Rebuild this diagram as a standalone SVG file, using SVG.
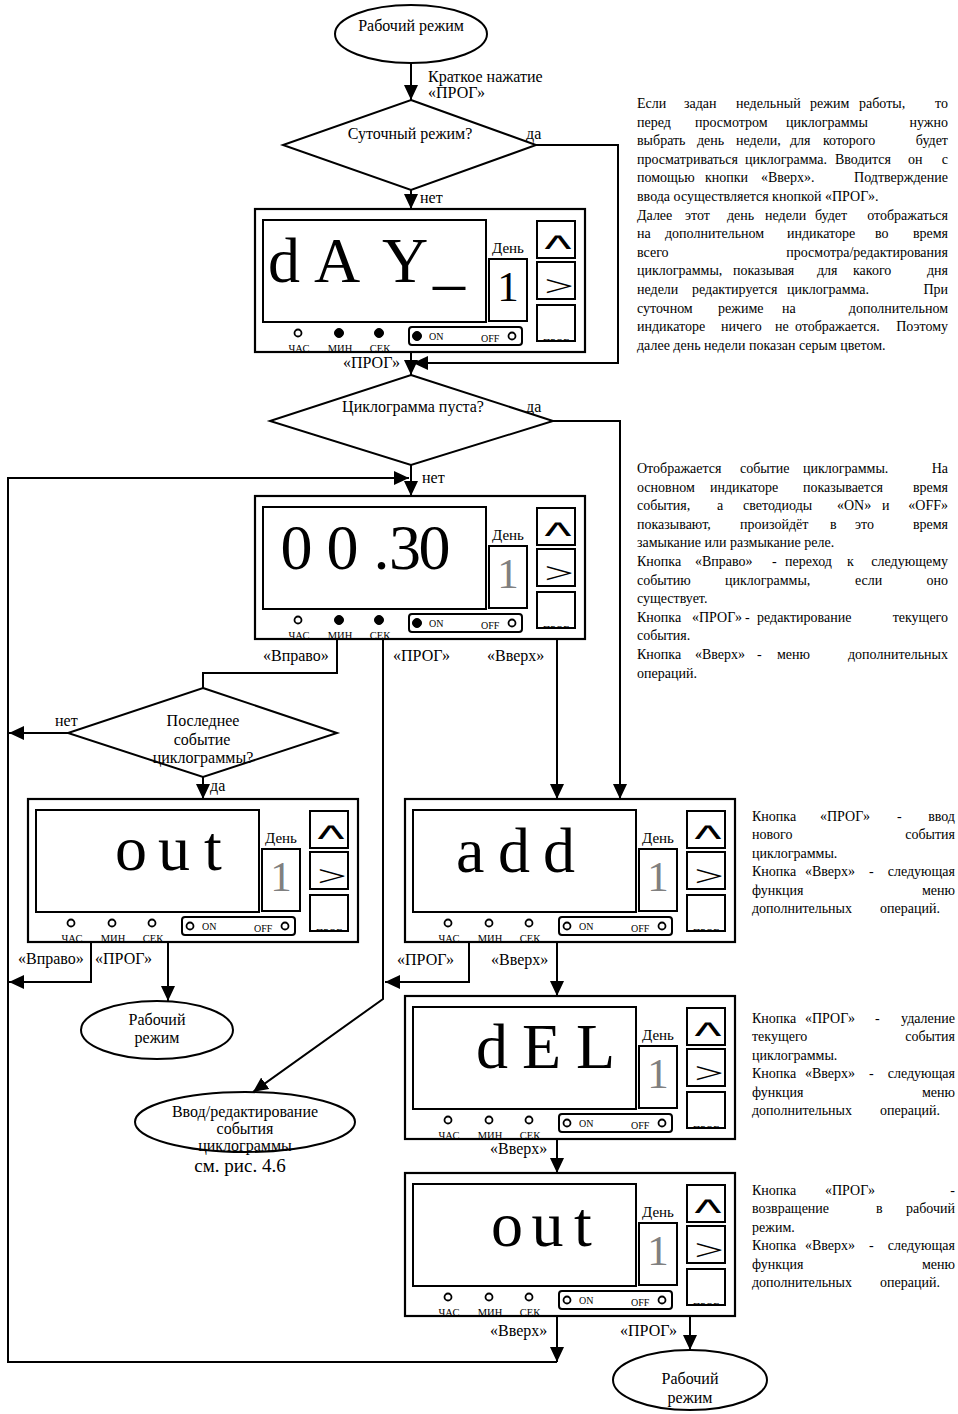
<svg xmlns="http://www.w3.org/2000/svg" width="958" height="1414" viewBox="0 0 958 1414">
<defs>
<style>
.s{font-family:"Liberation Serif","Times New Roman",serif;fill:#000}
.l{font-size:16px}
.rt{font-size:14px}
.disp{font-size:64px}
.dig{font-size:43px}
.gray{fill:#808080}
.day{font-size:15px}
.ledl{font-size:10.5px}
.oo{font-size:10px}
.tiny{font-size:10px}
.caret{font-family:"Liberation Sans",Arial,sans-serif;font-size:37px;fill:#000}
.gt{font-size:30px}
.sh{fill:#fff;stroke:#000;stroke-width:2}
.pbg{fill:#fff;stroke:none}
.pfr{fill:none;stroke:#000;stroke-width:2.2}
.bx{fill:none;stroke:#000;stroke-width:2}
.ln{fill:none;stroke:#000;stroke-width:2}
.ledo{fill:#fff;stroke:#000;stroke-width:1.8}
.ledf{fill:#000;stroke:#000;stroke-width:1}
.m{text-anchor:middle}
.e{text-anchor:end}
</style>
<marker id="ah" markerUnits="userSpaceOnUse" markerWidth="16" markerHeight="14" refX="15" refY="7" orient="auto">
<path d="M0,0 L15,7 L0,14 z" fill="#000"/>
</marker>
<clipPath id="bclip" clipPathUnits="userSpaceOnUse"><rect x="283" y="97" width="36" height="34"/></clipPath>
</defs>
<rect width="958" height="1414" fill="#fff"/>

<!-- connectors -->
<g id="connectors">
<g class="ln">
<path d="M411,63 V100" marker-end="url(#ah)"/>
<path d="M536,145 H618 V363 H413" marker-end="url(#ah)"/>
<path d="M411,190 V209" marker-end="url(#ah)"/>
<path d="M411,352 V375" marker-end="url(#ah)"/>
<path d="M553,421 H620 V799" marker-end="url(#ah)"/>
<path d="M411,465 V496" marker-end="url(#ah)"/>
<path d="M337,639 V673 H203 V688"/>
<path d="M383,639 V999 L253,1092" marker-end="url(#ah)"/>
<path d="M557,639 V799" marker-end="url(#ah)"/>
<path d="M68,733 H9" marker-end="url(#ah)"/>
<path d="M203,777 V799" marker-end="url(#ah)"/>
<path d="M91,942 V982 H9" marker-end="url(#ah)"/>
<path d="M168,942 V1001" marker-end="url(#ah)"/>
<path d="M469,942 V982 H385" marker-end="url(#ah)"/>
<path d="M557,942 V996" marker-end="url(#ah)"/>
<path d="M557,1139 V1173" marker-end="url(#ah)"/>
<path d="M557,1316 V1362" marker-end="url(#ah)"/>
<path d="M557,1362 H8 V478 H409" marker-end="url(#ah)"/>
<path d="M690,1316 V1350" marker-end="url(#ah)"/>
</g>
<g class="s l">
<text x="428" y="82">Краткое нажатие</text>
<text x="428" y="98">«ПРОГ»</text>
<text x="526" y="139">да</text>
<text x="420" y="203">нет</text>
<text x="400" y="368" class="e">«ПРОГ»</text>
<text x="526" y="412">да</text>
<text x="422" y="483">нет</text>
<text x="263" y="661">«Вправо»</text>
<text x="393" y="661">«ПРОГ»</text>
<text x="487" y="661">«Вверх»</text>
<text x="55" y="726">нет</text>
<text x="210" y="791">да</text>
<text x="18" y="964">«Вправо»</text>
<text x="95" y="964">«ПРОГ»</text>
<text x="397" y="965">«ПРОГ»</text>
<text x="491" y="965">«Вверх»</text>
<text x="490" y="1154">«Вверх»</text>
<text x="490" y="1336">«Вверх»</text>
<text x="620" y="1336">«ПРОГ»</text>
</g>
</g>

<!-- terminals and decisions -->
<g id="start">
<ellipse class="sh" cx="411" cy="34" rx="76" ry="29"/>
<text class="s l m" x="411" y="31">Рабочий режим</text>
</g>
<g id="dec-daily">
<polygon class="sh" points="411,100 536,145 411,190 283,145"/>
<text class="s l m" x="410" y="139">Суточный режим?</text>
</g>
<g id="dec-empty">
<polygon class="sh" points="411,375 553,421 411,465 270,421"/>
<text class="s l m" x="413" y="412">Циклограмма пуста?</text>
</g>
<g id="dec-last">
<polygon class="sh" points="203,688 337,733 203,777 68,733"/>
<text class="s l m" x="203" y="726">Последнее</text>
<text class="s l m" x="202" y="745">событие</text>
<text class="s l m" x="203" y="763">циклограммы?</text>
</g>
<g id="end-left">
<ellipse class="sh" cx="157" cy="1030" rx="76" ry="29"/>
<text class="s l m" x="157" y="1025">Рабочий</text>
<text class="s l m" x="157" y="1043">режим</text>
</g>
<g id="edit">
<ellipse class="sh" cx="245" cy="1122" rx="110" ry="30"/>
<text class="s l m" x="245" y="1117">Ввод/редактирование</text>
<text class="s l m" x="245" y="1134">события</text>
<text class="s l m" x="245" y="1151">циклограммы</text>
<text class="s m" style="font-size:19px" x="240" y="1172">см. рис. 4.6</text>
</g>
<g id="end-right">
<ellipse class="sh" cx="690" cy="1380" rx="77" ry="30"/>
<text class="s l m" x="690" y="1384">Рабочий</text>
<text class="s l m" x="690" y="1403">режим</text>
</g>

<!-- panel: dAY -->
<g id="panel-day" transform="translate(255,209)">
<rect class="pbg" width="330" height="143"/>
<rect class="bx" x="8" y="11" width="223" height="102"/>
<text class="s disp" x="13 59 127 178" y="73">dAY_</text>
<text class="s day m" x="253" y="44">День</text>
<rect class="bx" x="234" y="50" width="38" height="62"/>
<text class="s dig m" x="253" y="92">1</text>
<rect class="bx" x="282" y="12" width="38" height="37"/>
<text class="caret m" transform="translate(303,52) scale(1.55,1)">^</text>
<rect class="bx" x="282" y="53" width="38" height="37"/>
<text class="s gt m" transform="translate(304,87) scale(1.75,1)">&gt;</text>
<rect class="bx" x="282" y="96" width="38" height="36"/>
<text class="s tiny m" x="301" y="137" clip-path="url(#bclip)">ПРОГ</text>
<circle class="ledo" cx="43" cy="124" r="3.5"/>
<circle class="ledf" cx="84" cy="124" r="4.5"/>
<circle class="ledf" cx="124" cy="124" r="4.5"/>
<text class="s ledl m" x="44" y="143">ЧАС</text>
<text class="s ledl m" x="85" y="143">МИН</text>
<text class="s ledl m" x="125" y="143">СЕК</text>
<rect class="bx" x="154" y="118" width="113" height="18" rx="3"/>
<circle class="ledf" cx="162" cy="127" r="4.5"/>
<text class="s oo" x="174" y="131">ON</text>
<text class="s oo" x="226" y="133">OFF</text>
<circle class="ledo" cx="257" cy="127" r="3.5"/>
<rect class="pfr" width="330" height="143"/>
</g>

<!-- panel: event 00.30 -->
<g id="panel-event" transform="translate(255,496)">
<rect class="pbg" width="330" height="143"/>
<rect class="bx" x="8" y="11" width="223" height="102"/>
<text class="s disp" x="25.5 71.5 118.5 134 163.5" y="73">00.30</text>
<text class="s day m" x="253" y="44">День</text>
<rect class="bx" x="234" y="50" width="38" height="62"/>
<text class="s dig gray m" x="253" y="92">1</text>
<rect class="bx" x="282" y="12" width="38" height="37"/>
<text class="caret m" transform="translate(303,52) scale(1.55,1)">^</text>
<rect class="bx" x="282" y="53" width="38" height="37"/>
<text class="s gt m" transform="translate(304,87) scale(1.75,1)">&gt;</text>
<rect class="bx" x="282" y="96" width="38" height="36"/>
<text class="s tiny m" x="301" y="137" clip-path="url(#bclip)">ПРОГ</text>
<circle class="ledo" cx="43" cy="124" r="3.5"/>
<circle class="ledf" cx="84" cy="124" r="4.5"/>
<circle class="ledf" cx="124" cy="124" r="4.5"/>
<text class="s ledl m" x="44" y="143">ЧАС</text>
<text class="s ledl m" x="85" y="143">МИН</text>
<text class="s ledl m" x="125" y="143">СЕК</text>
<rect class="bx" x="154" y="118" width="113" height="18" rx="3"/>
<circle class="ledf" cx="162" cy="127" r="4.5"/>
<text class="s oo" x="174" y="131">ON</text>
<text class="s oo" x="226" y="133">OFF</text>
<circle class="ledo" cx="257" cy="127" r="3.5"/>
<rect class="pfr" width="330" height="143"/>
</g>

<!-- panel: out (left) -->
<g id="panel-out-left" transform="translate(28,799)">
<rect class="pbg" width="330" height="143"/>
<rect class="bx" x="8" y="11" width="223" height="102"/>
<text class="s disp" x="87 130 176" y="71">out</text>
<text class="s day m" x="253" y="44">День</text>
<rect class="bx" x="234" y="50" width="38" height="62"/>
<text class="s dig gray m" x="253" y="92">1</text>
<rect class="bx" x="282" y="12" width="38" height="37"/>
<text class="caret m" transform="translate(303,52) scale(1.55,1)">^</text>
<rect class="bx" x="282" y="53" width="38" height="37"/>
<text class="s gt m" transform="translate(304,87) scale(1.75,1)">&gt;</text>
<rect class="bx" x="282" y="96" width="38" height="36"/>
<text class="s tiny m" x="301" y="137" clip-path="url(#bclip)">ПРОГ</text>
<circle class="ledo" cx="43" cy="124" r="3.5"/>
<circle class="ledo" cx="84" cy="124" r="3.5"/>
<circle class="ledo" cx="124" cy="124" r="3.5"/>
<text class="s ledl m" x="44" y="143">ЧАС</text>
<text class="s ledl m" x="85" y="143">МИН</text>
<text class="s ledl m" x="125" y="143">СЕК</text>
<rect class="bx" x="154" y="118" width="113" height="18" rx="3"/>
<circle class="ledo" cx="162" cy="127" r="3.5"/>
<text class="s oo" x="174" y="131">ON</text>
<text class="s oo" x="226" y="133">OFF</text>
<circle class="ledo" cx="257" cy="127" r="3.5"/>
<rect class="pfr" width="330" height="143"/>
</g>

<!-- panel: add -->
<g id="panel-add" transform="translate(405,799)">
<rect class="pbg" width="330" height="143"/>
<rect class="bx" x="8" y="11" width="223" height="102"/>
<text class="s disp" x="51 93 138" y="73">add</text>
<text class="s day m" x="253" y="44">День</text>
<rect class="bx" x="234" y="50" width="38" height="62"/>
<text class="s dig gray m" x="253" y="92">1</text>
<rect class="bx" x="282" y="12" width="38" height="37"/>
<text class="caret m" transform="translate(303,52) scale(1.55,1)">^</text>
<rect class="bx" x="282" y="53" width="38" height="37"/>
<text class="s gt m" transform="translate(304,87) scale(1.75,1)">&gt;</text>
<rect class="bx" x="282" y="96" width="38" height="36"/>
<text class="s tiny m" x="301" y="137" clip-path="url(#bclip)">ПРОГ</text>
<circle class="ledo" cx="43" cy="124" r="3.5"/>
<circle class="ledo" cx="84" cy="124" r="3.5"/>
<circle class="ledo" cx="124" cy="124" r="3.5"/>
<text class="s ledl m" x="44" y="143">ЧАС</text>
<text class="s ledl m" x="85" y="143">МИН</text>
<text class="s ledl m" x="125" y="143">СЕК</text>
<rect class="bx" x="154" y="118" width="113" height="18" rx="3"/>
<circle class="ledo" cx="162" cy="127" r="3.5"/>
<text class="s oo" x="174" y="131">ON</text>
<text class="s oo" x="226" y="133">OFF</text>
<circle class="ledo" cx="257" cy="127" r="3.5"/>
<rect class="pfr" width="330" height="143"/>
</g>

<!-- panel: dEL -->
<g id="panel-del" transform="translate(405,996)">
<rect class="pbg" width="330" height="143"/>
<rect class="bx" x="8" y="11" width="223" height="102"/>
<text class="s disp" x="71 117 171" y="72">dEL</text>
<text class="s day m" x="253" y="44">День</text>
<rect class="bx" x="234" y="50" width="38" height="62"/>
<text class="s dig gray m" x="253" y="92">1</text>
<rect class="bx" x="282" y="12" width="38" height="37"/>
<text class="caret m" transform="translate(303,52) scale(1.55,1)">^</text>
<rect class="bx" x="282" y="53" width="38" height="37"/>
<text class="s gt m" transform="translate(304,87) scale(1.75,1)">&gt;</text>
<rect class="bx" x="282" y="96" width="38" height="36"/>
<text class="s tiny m" x="301" y="137" clip-path="url(#bclip)">ПРОГ</text>
<circle class="ledo" cx="43" cy="124" r="3.5"/>
<circle class="ledo" cx="84" cy="124" r="3.5"/>
<circle class="ledo" cx="124" cy="124" r="3.5"/>
<text class="s ledl m" x="44" y="143">ЧАС</text>
<text class="s ledl m" x="85" y="143">МИН</text>
<text class="s ledl m" x="125" y="143">СЕК</text>
<rect class="bx" x="154" y="118" width="113" height="18" rx="3"/>
<circle class="ledo" cx="162" cy="127" r="3.5"/>
<text class="s oo" x="174" y="131">ON</text>
<text class="s oo" x="226" y="133">OFF</text>
<circle class="ledo" cx="257" cy="127" r="3.5"/>
<rect class="pfr" width="330" height="143"/>
</g>

<!-- panel: out (right) -->
<g id="panel-out-right" transform="translate(405,1173)">
<rect class="pbg" width="330" height="143"/>
<rect class="bx" x="8" y="11" width="223" height="102"/>
<text class="s disp" x="86 126.5 169" y="73">out</text>
<text class="s day m" x="253" y="44">День</text>
<rect class="bx" x="234" y="50" width="38" height="62"/>
<text class="s dig gray m" x="253" y="92">1</text>
<rect class="bx" x="282" y="12" width="38" height="37"/>
<text class="caret m" transform="translate(303,52) scale(1.55,1)">^</text>
<rect class="bx" x="282" y="53" width="38" height="37"/>
<text class="s gt m" transform="translate(304,87) scale(1.75,1)">&gt;</text>
<rect class="bx" x="282" y="96" width="38" height="36"/>
<text class="s tiny m" x="301" y="137" clip-path="url(#bclip)">ПРОГ</text>
<circle class="ledo" cx="43" cy="124" r="3.5"/>
<circle class="ledo" cx="84" cy="124" r="3.5"/>
<circle class="ledo" cx="124" cy="124" r="3.5"/>
<text class="s ledl m" x="44" y="143">ЧАС</text>
<text class="s ledl m" x="85" y="143">МИН</text>
<text class="s ledl m" x="125" y="143">СЕК</text>
<rect class="bx" x="154" y="118" width="113" height="18" rx="3"/>
<circle class="ledo" cx="162" cy="127" r="3.5"/>
<text class="s oo" x="174" y="131">ON</text>
<text class="s oo" x="226" y="133">OFF</text>
<circle class="ledo" cx="257" cy="127" r="3.5"/>
<rect class="pfr" width="330" height="143"/>
</g>

<!-- notes -->
<g id="note-day" class="s rt">
<text y="108"><tspan x="637">Если</tspan><tspan x="684">задан</tspan><tspan x="736">недельный</tspan><tspan x="810">режим</tspan><tspan x="859">работы,</tspan><tspan x="948" class="e">то</tspan></text>
<text y="126.6"><tspan x="637">перед</tspan><tspan x="695">просмотром</tspan><tspan x="786">циклограммы</tspan><tspan x="948" class="e">нужно</tspan></text>
<text y="145.2"><tspan x="637">выбрать</tspan><tspan x="697">день</tspan><tspan x="736">недели,</tspan><tspan x="790">для</tspan><tspan x="823">которого</tspan><tspan x="948" class="e">будет</tspan></text>
<text y="163.8"><tspan x="637">просматриваться</tspan><tspan x="745">циклограмма.</tspan><tspan x="835">Вводится</tspan><tspan x="908">он</tspan><tspan x="948" class="e">с</tspan></text>
<text y="182.4"><tspan x="637">помощью</tspan><tspan x="705">кнопки</tspan><tspan x="761">«Вверх».</tspan><tspan x="948" class="e">Подтверждение</tspan></text>
<text x="637" y="201">ввода осуществляется кнопкой «ПРОГ».</text>
<text y="219.6"><tspan x="637">Далее</tspan><tspan x="685">этот</tspan><tspan x="727">день</tspan><tspan x="765">недели</tspan><tspan x="815">будет</tspan><tspan x="948" class="e">отображаться</tspan></text>
<text y="238.2"><tspan x="637">на</tspan><tspan x="665">дополнительном</tspan><tspan x="787">индикаторе</tspan><tspan x="875">во</tspan><tspan x="948" class="e">время</tspan></text>
<text y="256.8"><tspan x="637">всего</tspan><tspan x="948" class="e">просмотра/редактирования</tspan></text>
<text y="275.4"><tspan x="637">циклограммы,</tspan><tspan x="733">показывая</tspan><tspan x="817">для</tspan><tspan x="853">какого</tspan><tspan x="948" class="e">дня</tspan></text>
<text y="294"><tspan x="637">недели</tspan><tspan x="692">редактируется</tspan><tspan x="787">циклограмма.</tspan><tspan x="948" class="e">При</tspan></text>
<text y="312.6"><tspan x="637">суточном</tspan><tspan x="718">режиме</tspan><tspan x="782">на</tspan><tspan x="948" class="e">дополнительном</tspan></text>
<text y="331.2"><tspan x="637">индикаторе</tspan><tspan x="721">ничего</tspan><tspan x="775">не</tspan><tspan x="795">отображается.</tspan><tspan x="948" class="e">Поэтому</tspan></text>
<text x="637" y="349.8">далее день недели показан серым цветом.</text>
</g>

<g id="note-event" class="s rt">
<text y="473"><tspan x="637">Отображается</tspan><tspan x="740">событие</tspan><tspan x="803">циклограммы.</tspan><tspan x="948" class="e">На</tspan></text>
<text y="491.6"><tspan x="637">основном</tspan><tspan x="710">индикаторе</tspan><tspan x="803">показывается</tspan><tspan x="948" class="e">время</tspan></text>
<text y="510.2"><tspan x="637">события,</tspan><tspan x="717">а</tspan><tspan x="743">светодиоды</tspan><tspan x="837">«ON»</tspan><tspan x="882">и</tspan><tspan x="948" class="e">«OFF»</tspan></text>
<text y="528.8"><tspan x="637">показывают,</tspan><tspan x="740">произойдёт</tspan><tspan x="830">в</tspan><tspan x="855">это</tspan><tspan x="948" class="e">время</tspan></text>
<text x="637" y="547.4">замыкание или размыкание реле.</text>
<text y="566"><tspan x="637">Кнопка</tspan><tspan x="695">«Вправо»</tspan><tspan x="772">-</tspan><tspan x="785">переход</tspan><tspan x="847">к</tspan><tspan x="948" class="e">следующему</tspan></text>
<text y="584.6"><tspan x="637">событию</tspan><tspan x="725">циклограммы,</tspan><tspan x="855">если</tspan><tspan x="948" class="e">оно</tspan></text>
<text x="637" y="603.2">существует.</text>
<text y="621.8"><tspan x="637">Кнопка</tspan><tspan x="692">«ПРОГ»</tspan><tspan x="745">-</tspan><tspan x="757">редактирование</tspan><tspan x="948" class="e">текущего</tspan></text>
<text x="637" y="640.4">события.</text>
<text y="659"><tspan x="637">Кнопка</tspan><tspan x="695">«Вверх»</tspan><tspan x="757">-</tspan><tspan x="777">меню</tspan><tspan x="948" class="e">дополнительных</tspan></text>
<text x="637" y="677.6">операций.</text>
</g>

<g id="note-add" class="s rt">
<text y="821"><tspan x="752">Кнопка</tspan><tspan x="820">«ПРОГ»</tspan><tspan x="897">-</tspan><tspan x="955" class="e">ввод</tspan></text>
<text y="839.4"><tspan x="752">нового</tspan><tspan x="955" class="e">события</tspan></text>
<text x="752" y="857.8">циклограммы.</text>
<text y="876.2"><tspan x="752">Кнопка</tspan><tspan x="805">«Вверх»</tspan><tspan x="869">-</tspan><tspan x="955" class="e">следующая</tspan></text>
<text y="894.6"><tspan x="752">функция</tspan><tspan x="955" class="e">меню</tspan></text>
<text y="913"><tspan x="752">дополнительных</tspan><tspan x="940" class="e">операций.</tspan></text>
</g>

<g id="note-del" class="s rt">
<text y="1023"><tspan x="752">Кнопка</tspan><tspan x="805">«ПРОГ»</tspan><tspan x="875">-</tspan><tspan x="955" class="e">удаление</tspan></text>
<text y="1041.4"><tspan x="752">текущего</tspan><tspan x="955" class="e">события</tspan></text>
<text x="752" y="1059.8">циклограммы.</text>
<text y="1078.2"><tspan x="752">Кнопка</tspan><tspan x="805">«Вверх»</tspan><tspan x="869">-</tspan><tspan x="955" class="e">следующая</tspan></text>
<text y="1096.6"><tspan x="752">функция</tspan><tspan x="955" class="e">меню</tspan></text>
<text y="1115"><tspan x="752">дополнительных</tspan><tspan x="940" class="e">операций.</tspan></text>
</g>

<g id="note-out" class="s rt">
<text y="1195"><tspan x="752">Кнопка</tspan><tspan x="825">«ПРОГ»</tspan><tspan x="955" class="e">-</tspan></text>
<text y="1213.4"><tspan x="752">возвращение</tspan><tspan x="876">в</tspan><tspan x="955" class="e">рабочий</tspan></text>
<text x="752" y="1231.8">режим.</text>
<text y="1250.2"><tspan x="752">Кнопка</tspan><tspan x="805">«Вверх»</tspan><tspan x="869">-</tspan><tspan x="955" class="e">следующая</tspan></text>
<text y="1268.6"><tspan x="752">функция</tspan><tspan x="955" class="e">меню</tspan></text>
<text y="1287"><tspan x="752">дополнительных</tspan><tspan x="940" class="e">операций.</tspan></text>
</g>
</svg>
